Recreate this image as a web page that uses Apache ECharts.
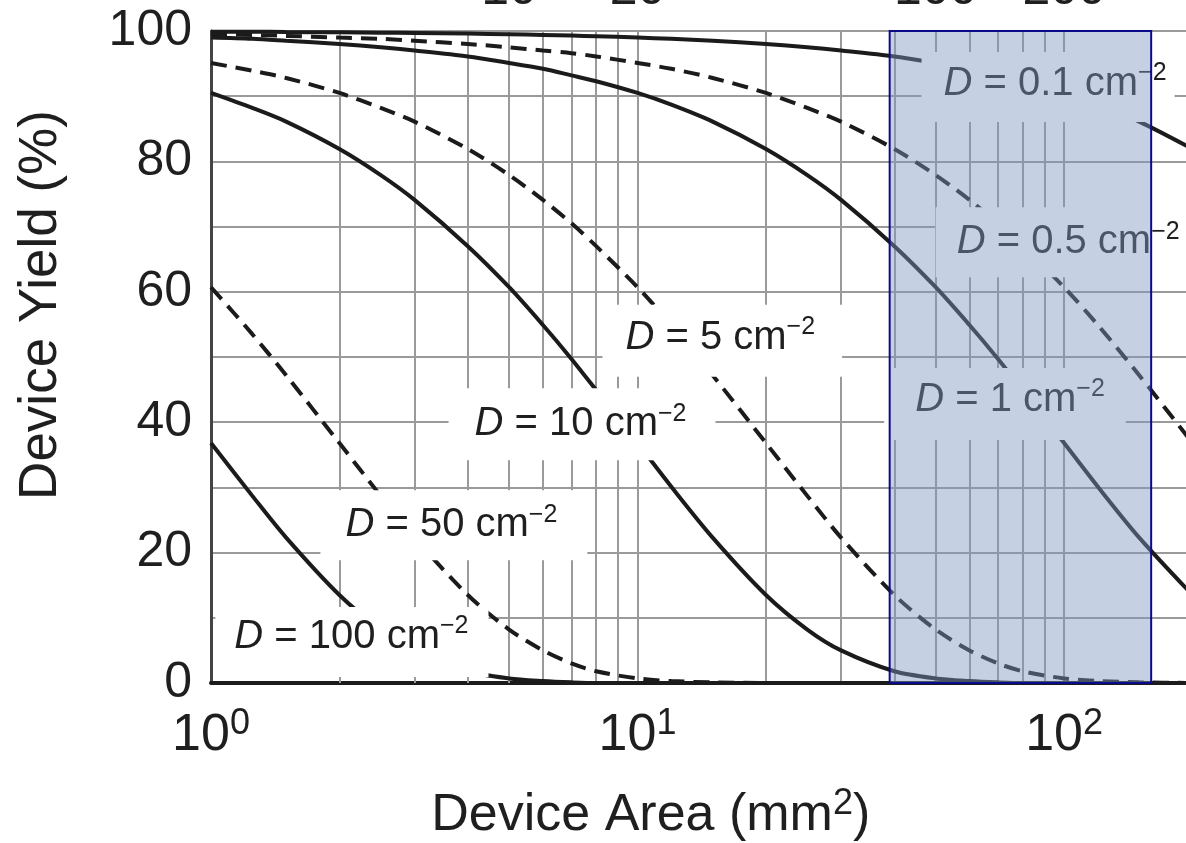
<!DOCTYPE html>
<html>
<head>
<meta charset="utf-8">
<title>Device Yield vs Device Area</title>
<script src="https://cdn.jsdelivr.net/npm/echarts@6/dist/echarts.min.js"></script>
<style>
  html, body { margin: 0; padding: 0; background: #fff; }
  #chart { width: 1186px; height: 843px; }
</style>
</head>
<body>
<div id="chart"></div>
<script>
const areaValues = [1, 1.25, 1.5, 2, 2.5, 3, 4, 5, 6, 7, 8, 10, 12, 15, 20, 25, 30, 40, 50, 60, 70, 80, 100, 120, 150, 200]

// yield (%) per defect density
const yieldD01 = [99.9, 99.9, 99.85, 99.8, 99.75, 99.7, 99.6, 99.5, 99.4, 99.3, 99.2, 99.0, 98.8, 98.5, 98.0, 97.5, 97.0, 96.1, 95.1, 94.2, 93.2, 92.3, 90.5, 88.7, 86.1, 81.9]
const yieldD05 = [99.5, 99.4, 99.25, 99.0, 98.8, 98.5, 98.0, 97.5, 97.0, 96.6, 96.1, 95.1, 94.2, 92.8, 90.5, 88.2, 86.1, 81.9, 77.9, 74.1, 70.5, 67.0, 60.7, 54.9, 47.2, 36.8]
const yieldD1 = [99.0, 98.8, 98.5, 98.0, 97.5, 97.0, 96.1, 95.1, 94.2, 93.2, 92.3, 90.5, 88.7, 86.1, 81.9, 77.9, 74.1, 67.0, 60.7, 54.9, 49.7, 44.9, 36.8, 30.1, 22.3, 13.5]
const yieldD5 = [95.1, 93.9, 92.8, 90.5, 88.2, 86.1, 81.9, 77.9, 74.1, 70.5, 67.0, 60.7, 54.9, 47.2, 36.8, 28.7, 22.3, 13.5, 8.2, 5.0, 3.0, 1.8, 0.7, 0.3, 0.1, 0]
const yieldD10 = [90.5, 88.2, 86.1, 81.9, 77.9, 74.1, 67.0, 60.7, 54.9, 49.7, 44.9, 36.8, 30.1, 22.3, 13.5, 8.2, 5.0, 1.8, 0.7, 0.3, 0.1, 0, 0, 0, 0, 0]
const yieldD50 = [60.7, 53.5, 47.2, 36.8, 28.7, 22.3, 13.5, 8.2, 5.0, 3.0, 1.8, 0.7, 0.3, 0.1, 0, 0, 0, 0, 0, 0, 0, 0, 0, 0, 0, 0]
const yieldD100 = [36.8, 28.7, 22.3, 13.5, 8.2, 5.0, 1.8, 0.7, 0.3, 0.1, 0, 0, 0, 0, 0, 0, 0, 0, 0, 0, 0, 0, 0, 0, 0, 0]

const densityNames = ['0.1', '0.5', '1', '5', '10', '50', '100']
const densityDashed = [false, true, false, true, false, true, false]
const curves = [yieldD01, yieldD05, yieldD1, yieldD5, yieldD10, yieldD50, yieldD100]

const minorGridAreas = [2, 3, 4, 5, 6, 7, 8, 9, 20, 30, 40, 50, 60, 70, 80, 90]
const shadedAreaRange = [39, 160]
const topTickLabels = ['10', '20', '100', '200']
const topTickAreas = [5, 10, 50, 100]

// where each curve label box sits (centre, data units) and its padding
const labelSpots = [
  { x: 91.7, y: 91.4, pad: [9, 8, 15, 22] },
  { x: 99.5, y: 67.6, pad: [12, 11, 12, 21] },
  { x: 72.7, y: 42.8, pad: [9, 21, 17, 31] },
  { x: 15.8, y: 52.5, pad: [10, 27, 16, 23] },
  { x: 7.41, y: 39.7, pad: [13, 29, 13, 26] },
  { x: 3.71, y: 24.2, pad: [12, 30, 12, 25] },
  { x: 2.14, y: 6.3, pad: [7, 20, 17, 19] },
]

const FONT = 'Liberation Sans'
const TEXT = '#1f1f1f'
const GRID = '#9a9a9a'

const chart = echarts.init(document.getElementById('chart'))

const curveSeries = curves.map((ys, i) => ({
  name: 'D = ' + densityNames[i],
  type: 'line',
  z: 2,
  silent: true,
  symbol: 'none',
  smooth: 0.3,
  data: areaValues.map((a, j) => [a, ys[j]]),
  lineStyle: {
    color: '#1b1b1b',
    width: 4,
    type: densityDashed[i] ? [16, 9] : 'solid',
  },
}))

// minor log grid + shaded window hang off the first curve
curveSeries[0].markLine = {
  z: 1,
  silent: true,
  symbol: 'none',
  animation: false,
  label: { show: false },
  lineStyle: { color: GRID, width: 2, type: 'solid' },
  data: minorGridAreas.map((v) => ({ xAxis: v })),
}
curveSeries[0].markArea = {
  z: 4,
  silent: true,
  itemStyle: {
    color: 'rgba(126, 153, 191, 0.45)',
    borderColor: '#0b0b8a',
    borderWidth: 2,
  },
  data: [[{ xAxis: shadedAreaRange[0], yAxis: 0 }, { xAxis: shadedAreaRange[1], yAxis: 100 }]],
}

const labelSeries = {
  type: 'scatter',
  z: 3,
  silent: true,
  symbolSize: 1,
  itemStyle: { color: 'rgba(0,0,0,0)', opacity: 1 },
  data: labelSpots.map((s) => ({ value: [s.x, s.y], label: { padding: s.pad } })),
  label: {
    show: true,
    position: 'inside',
    opacity: 1,
    backgroundColor: '#fff',
    color: TEXT,
    fontFamily: FONT,
    fontSize: 40,
    lineHeight: 46,
    formatter: (p) => '{i|D} = ' + densityNames[p.dataIndex] + ' cm{s|\u22122}',
    rich: {
      i: { fontStyle: 'italic', fontFamily: FONT, fontSize: 40, lineHeight: 46, color: TEXT },
      s: { fontFamily: FONT, fontSize: 25, lineHeight: 25, verticalAlign: 'top', color: TEXT },
    },
  },
}

const option = {
  animation: false,
  backgroundColor: '#fff',
  grid: { left: 211, right: -6.5, top: 31, bottom: 160, outerBoundsMode: 'none', containLabel: false },
  xAxis: {
    type: 'log',
    logBase: 10,
    min: 1,
    max: 200,
    name: 'Device Area (mm{s|2})',
    nameLocation: 'middle',
    nameGap: 103,
    nameTextStyle: {
      color: TEXT,
      fontFamily: FONT,
      fontSize: 52,
      lineHeight: 60,
      padding: [0, 102, 0, 0],
      rich: {
        s: { fontFamily: FONT, fontSize: 36, lineHeight: 34, verticalAlign: 'top', color: TEXT },
      },
    },
    axisLine: { show: true, lineStyle: { color: '#1b1b1b', width: 4 } },
    axisTick: { show: false },
    splitLine: { show: true, lineStyle: { color: GRID, width: 2 } },
    axisLabel: {
      margin: 23,
      showMaxLabel: false,
      formatter: (v) => {
        const e = Math.round(Math.log10(v))
        if (Math.abs(Math.log10(v) - e) > 1e-6) return ''
        return '{b|10}{s|' + e + '}'
      },
      rich: {
        b: { fontFamily: FONT, fontSize: 52, lineHeight: 60, color: TEXT },
        s: { fontFamily: FONT, fontSize: 36, lineHeight: 34, verticalAlign: 'top', color: TEXT },
      },
    },
  },
  yAxis: {
    type: 'value',
    min: 0,
    max: 100,
    interval: 10,
    name: 'Device Yield (%)',
    nameLocation: 'middle',
    nameGap: 140,
    nameTextStyle: {
      color: TEXT,
      fontFamily: FONT,
      fontSize: 53,
      lineHeight: 60,
      padding: [0, 0, 0, 104],
    },
    axisLine: { show: true, lineStyle: { color: '#444', width: 3 } },
    axisTick: { show: false },
    splitLine: { show: true, lineStyle: { color: GRID, width: 2 } },
    axisLabel: {
      margin: 19,
      color: TEXT,
      fontFamily: FONT,
      fontSize: 50,
      padding: [0, 0, 8, 0],
      formatter: (v) => (v % 20 === 0 ? String(v) : ''),
    },
  },
  series: [...curveSeries, labelSeries],
}

chart.setOption(option)

// top scale labels, mostly cut off by the top edge
chart.setOption({
  graphic: topTickLabels.map((t, i) => ({
    type: 'text',
    silent: true,
    x: chart.convertToPixel({ xAxisIndex: 0 }, topTickAreas[i]),
    y: 15,
    style: {
      text: t,
      fill: TEXT,
      font: '50px "Liberation Sans"',
      textAlign: 'center',
      textVerticalAlign: 'bottom',
    },
  })),
})
</script>
</body>
</html>
